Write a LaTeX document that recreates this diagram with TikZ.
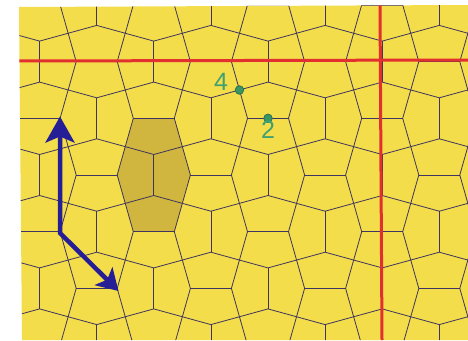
\documentclass[tikz,border=0pt]{standalone}
\usepackage{fontspec}
\setmainfont{Liberation Sans}
\usetikzlibrary{arrows.meta}
\definecolor{tileyellow}{RGB}{243,221,74}
\definecolor{tiledark}{RGB}{208,182,62}
\definecolor{tileline}{RGB}{62,52,95}
\definecolor{redline}{RGB}{226,48,48}
\definecolor{arrowblue}{RGB}{38,30,150}
\definecolor{markgreen}{RGB}{60,150,100}
\definecolor{markring}{RGB}{40,115,80}
\definecolor{textgreen}{RGB}{64,160,112}
\tikzset{
  tileedge/.style={draw=tileline, line width=0.8pt},
  mirrorline/.style={draw=redline, line width=3pt},
  vecarrow/.style={draw=arrowblue, line width=4.5pt, line join=miter,
    {Stealth[length=26pt,width=29pt,inset=6pt]}-{Stealth[length=21pt,width=25pt,inset=5pt]}},
  markdot/.style={circle, fill=markgreen, draw=markring, line width=0.8pt, inner sep=0pt, minimum size=8.5pt},
  marklabel/.style={text=textgreen, inner sep=0pt, font=\fontsize{25}{25}\selectfont}
}
\begin{document}
\begin{tikzpicture}[x=1pt,y=-1pt]
\useasboundingbox (0,0) rectangle (468,340);
\fill[white] (0,0) rectangle (468,340);
\def\sx{57.1}
\def\sy{56.7}
\def\Xo{125.25}
\def\Yo{146.65}
\def\ee{41}
% yellow ground
\path[fill=tileyellow] (19,7) -- (468,5) -- (468,340) -- (22,340) -- cycle;
\begin{scope}
\clip (19,7) -- (468,5) -- (468,340) -- (22,340) -- cycle;
% darker cell of four pentagons
\fill[tiledark] (125.25,146.65) -- (133.3,118.3) -- (174.3,118.3) -- (182.35,146.65) -- (190.4,175)
  -- (182.35,203.35) -- (174.3,231.7) -- (133.3,231.7) -- (125.25,203.35) -- (117.2,175) -- cycle;
% Cairo tiling
\foreach \i in {-3,...,6}{
  \foreach \j in {-4,...,3}{
    \pgfmathsetmacro\xl{\Xo+\i*\sx}
    \pgfmathsetmacro\xr{\xl+\sx}
    \pgfmathsetmacro\yt{\Yo+\j*\sy}
    \pgfmathsetmacro\yb{\yt+\sy}
    \pgfmathsetmacro\cx{\xl+\sx/2}
    \pgfmathsetmacro\cy{\yt+\sy/2}
    \pgfmathtruncatemacro\parity{mod(\i+\j+100,2)}
    \ifnum\parity=0
      \draw[tileedge] (\xl,\yt) -- (\cx,{\cy-\ee/2}) -- (\xr,\yt);
      \draw[tileedge] (\cx,{\cy-\ee/2}) -- (\cx,{\cy+\ee/2});
      \draw[tileedge] (\xl,\yb) -- (\cx,{\cy+\ee/2}) -- (\xr,\yb);
    \else
      \draw[tileedge] (\xl,\yt) -- ({\cx-\ee/2},\cy) -- (\xl,\yb);
      \draw[tileedge] ({\cx-\ee/2},\cy) -- ({\cx+\ee/2},\cy);
      \draw[tileedge] (\xr,\yt) -- ({\cx+\ee/2},\cy) -- (\xr,\yb);
    \fi
  }
}
% red lines
\coordinate (hl) at (19,61);
\coordinate (hr) at (468,60);
\coordinate (vt) at (380,5);
\coordinate (vb) at (382,340);
\draw[mirrorline] (hl) -- (hr);
\draw[mirrorline] (vt) -- (vb);
\end{scope}
% translation vectors
\coordinate (orig) at (60,233);
\coordinate (tipup) at (60,116.5);
\coordinate (tipdiag) at (118.5,291);
\draw[vecarrow] (tipup) -- (orig) -- (tipdiag);
% marked points
\node[markdot] (p4) at (239.45,90) {};
\node[markdot] (p2) at (268,118.3) {};
\node[marklabel] (l4) at (221,82) {4};
\node[marklabel] (l2) at (268,129.5) {2};
\end{tikzpicture}
\end{document}
